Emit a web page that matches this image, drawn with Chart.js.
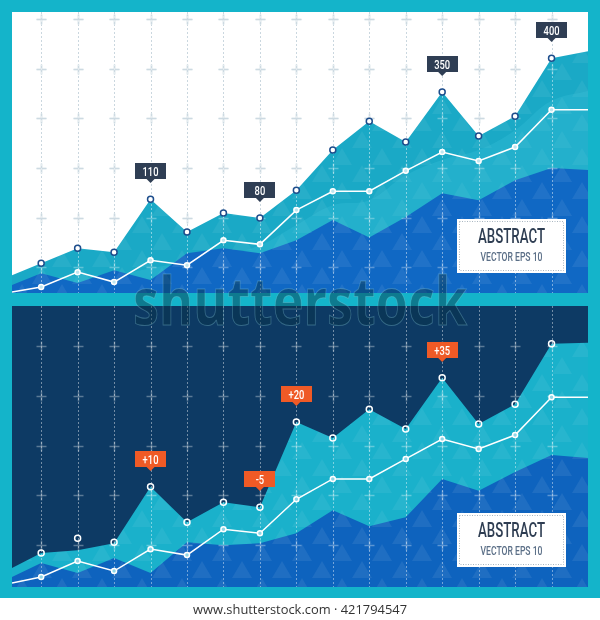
<!DOCTYPE html>
<html>
<head>
<meta charset="utf-8">
<script src="https://cdn.jsdelivr.net/npm/chart.js@4.4.1/dist/chart.umd.min.js"></script>
<style>
  html, body { margin: 0; padding: 0; background: #fff; }
  #page { position: relative; width: 600px; height: 620px; overflow: hidden; }
  #frame { position: absolute; left: 0; top: 0; width: 600px; height: 598px; background: #14b4ca; }
  .panel { position: absolute; left: 12px; width: 576px; height: 281px; }
  #topPanel { top: 12px; background: #fff; }
  #bottomPanel { top: 306px; background: #0d3a64; }
  #overlay { position: absolute; left: 0; top: 0; pointer-events: none; }
</style>
</head>
<body>
<div id="page">
  <div id="frame"></div>
  <div class="panel" id="topPanel"><canvas id="topChart"></canvas></div>
  <div class="panel" id="bottomPanel"><canvas id="bottomChart"></canvas></div>
  <canvas id="overlay" width="600" height="620"></canvas>
</div>
<script>
// x positions (column steps), first/last are the panel edges
var steps = [0.2, 1, 2, 3, 4, 5, 6, 7, 8, 9, 10, 11, 12, 13, 14, 15, 16];
var gridCols = [1, 2, 3, 4, 5, 6, 7, 8, 9, 10, 11, 12, 13, 14, 15];

// top (white) panel
var topPeak  = [-0.16, 0.08, 0.38, 0.30, 1.37, 0.71, 1.09, 0.99, 1.55, 2.36, 2.94, 2.52, 3.53, 2.64, 3.04, 4.21, 4.35];
var topGlow  = [-0.36, -0.26, -0.16, -0.16, -0.02, 0.10, 0.24, 0.44, 0.85, 1.25, 1.35, 1.85, 2.16, 2.36, 2.76, 3.35, 3.55];
var topBase  = [-0.36, -0.12, -0.32, -0.06, -0.26, 0.28, 0.38, 0.28, 0.54, 0.95, 0.60, 1.01, 1.49, 1.35, 1.75, 2.00, 1.96];
var topTrend = [-0.50, -0.40, -0.10, -0.30, 0.14, 0.04, 0.54, 0.46, 1.15, 1.53, 1.53, 1.94, 2.32, 2.14, 2.42, 3.17, 3.17];
var topRows  = [0, 1, 2, 3, 4, 5];
var topTagAt = [4, 7, 12, 15];
var topTags  = ['110', '80', '350', '400'];

// bottom (dark) panel
var botPeak  = [-0.46, -0.16, -0.10, 0.04, 1.17, 0.46, 0.86, 0.76, 2.47, 2.15, 2.73, 2.33, 3.36, 2.43, 2.83, 4.04, 4.06];
var botMarks = [-0.42, -0.16, 0.14, 0.06, 1.17, 0.46, 0.86, 0.76, 2.47, 2.15, 2.73, 2.33, 3.36, 2.43, 2.83, 4.04, 4.06];
var botBase  = [-0.64, -0.36, -0.56, -0.26, -0.56, 0.06, 0.00, 0.04, 0.24, 0.70, 0.38, 0.56, 1.33, 1.09, 1.47, 1.81, 1.75];
var botTrend = [-0.76, -0.64, -0.32, -0.52, -0.08, -0.20, 0.32, 0.24, 0.92, 1.33, 1.33, 1.73, 2.13, 1.93, 2.21, 2.97, 2.97];
var botRows  = [0, 1, 2, 3, 4];
var botTagAt = [4, 7, 8, 12];
var botTags  = ['+10', '-5', '+20', '+35'];

function pts(vals) {
  return vals.map(function (v, i) { return { x: steps[i], y: v }; });
}

function inner(c) {
  return c.dataIndex === 0 || c.dataIndex === steps.length - 1 ? 0 : 3;
}

// triangle texture used for the area fills
function tiles(base, light) {
  var c = document.createElement('canvas');
  c.width = 40; c.height = 34;
  var g = c.getContext('2d');
  g.fillStyle = base;
  g.fillRect(0, 0, 40, 34);
  g.fillStyle = light;
  function tri(x, y) {
    g.beginPath();
    g.moveTo(x, y + 17); g.lineTo(x + 10, y); g.lineTo(x + 20, y + 17);
    g.closePath(); g.fill();
  }
  tri(0, 0); tri(20, 17); tri(-20, 17);
  return g.createPattern(c, 'repeat');
}

function fitText(ctx, text, cx, base, width, font, color) {
  ctx.save();
  ctx.font = font;
  var w = ctx.measureText(text).width;
  ctx.translate(cx, base);
  ctx.scale(width / w, 1);
  ctx.fillStyle = color;
  ctx.textAlign = 'center';
  ctx.textBaseline = 'alphabetic';
  ctx.fillText(text, 0, 0);
  ctx.restore();
}

function drawGrid(chart, lineColor, crossColor, rows) {
  var ctx = chart.ctx, xs = chart.scales.x, ys = chart.scales.y, a = chart.chartArea;
  ctx.save();
  ctx.lineWidth = 1;
  ctx.strokeStyle = lineColor;
  ctx.setLineDash([2, 2]);
  gridCols.forEach(function (c) {
    var x = Math.round(xs.getPixelForValue(c)) + 0.5;
    ctx.beginPath(); ctx.moveTo(x, a.top); ctx.lineTo(x, a.bottom); ctx.stroke();
  });
  ctx.setLineDash([]);
  ctx.strokeStyle = crossColor;
  ctx.lineWidth = 1.5;
  gridCols.forEach(function (c) {
    var x = Math.round(xs.getPixelForValue(c)) + 0.5;
    rows.forEach(function (r) {
      var y = Math.round(ys.getPixelForValue(r)) + 0.5;
      ctx.beginPath();
      ctx.moveTo(x - 5, y); ctx.lineTo(x + 5, y);
      ctx.moveTo(x, y - 5); ctx.lineTo(x, y + 5);
      ctx.stroke();
    });
  });
  ctx.restore();
}

function drawTag(ctx, x, y, text, color) {
  var w = 31, h = 16, bottom = Math.round(y - 20);
  ctx.save();
  ctx.fillStyle = color;
  ctx.fillRect(Math.round(x - w / 2), bottom - h, w, h);
  ctx.beginPath();
  ctx.moveTo(x - 4, bottom); ctx.lineTo(x, bottom + 4); ctx.lineTo(x + 4, bottom);
  ctx.closePath(); ctx.fill();
  ctx.font = '500 13px Roboto';
  ctx.fillStyle = '#fff';
  ctx.translate(x, bottom - 3.5);
  ctx.scale(0.72, 1);
  ctx.textAlign = 'center';
  ctx.fillText(text, 0, 0);
  ctx.restore();
}

function drawBadge(chart) {
  var ctx = chart.ctx, a = chart.chartArea;
  var x = a.left + 445, y = a.top + 207, w = 109, h = 54;
  ctx.save();
  ctx.fillStyle = '#fff';
  ctx.fillRect(x, y, w, h);
  ctx.strokeStyle = '#a9b6c1';
  ctx.lineWidth = 1;
  ctx.setLineDash([1, 1.5]);
  ctx.strokeRect(x + 2.5, y + 2.5, w - 5, h - 5);
  ctx.restore();
  fitText(ctx, 'ABSTRACT', x + w / 2, y + 24, 67, '500 21px Roboto', '#2e3d52');
  fitText(ctx, 'VECTOR EPS 10', x + w / 2, y + 42, 62, '500 12px Roboto', '#5b6f87');
}

var panelDeco = {
  id: 'panelDeco',
  beforeDatasetsDraw: function (chart) {
    var d = chart.options.plugins.panelDeco;
    if (d.underLine) drawGrid(chart, d.underLine, d.underCross, d.rows);
  },
  afterDatasetDraw: function (chart, args) {
    var d = chart.options.plugins.panelDeco;
    if (chart.data.datasets[args.index].label === 'base') {
      drawGrid(chart, d.overLine, d.overCross, d.rows);
    }
  },
  afterDatasetsDraw: function (chart) {
    var d = chart.options.plugins.panelDeco;
    var xs = chart.scales.x, ys = chart.scales.y;
    d.tagAt.forEach(function (i, k) {
      drawTag(chart.ctx, xs.getPixelForValue(steps[i]), ys.getPixelForValue(d.marks[i]), d.tags[k], d.tagColor);
    });
    drawBadge(chart);
  }
};

function panelChart(id, cfg) {
  return new Chart(document.getElementById(id), {
    type: 'line',
    data: {
      datasets: [{
        label: 'peak',
        data: pts(cfg.peak),
        order: 5,
        fill: 'start',
        backgroundColor: cfg.peakFill,
        borderWidth: 0,
        pointRadius: 0,
        tension: 0
      }, {
        label: 'glow',
        data: pts(cfg.glow || cfg.base),
        order: 4,
        fill: 'start',
        backgroundColor: cfg.glow ? 'rgba(80, 210, 232, 0.18)' : 'rgba(0,0,0,0)',
        borderWidth: 0,
        pointRadius: 0,
        tension: 0.4
      }, {
        label: 'base',
        data: pts(cfg.base),
        order: 3,
        fill: 'start',
        backgroundColor: cfg.baseFill,
        borderWidth: 0,
        pointRadius: 0,
        tension: 0
      }, {
        label: 'trend',
        data: pts(cfg.trend),
        order: 2,
        fill: false,
        borderColor: '#ffffff',
        borderWidth: 1.5,
        pointRadius: function (c) { return inner(c) ? 2.5 : 0; },
        pointBorderWidth: 1.5,
        pointBorderColor: '#ffffff',
        pointBackgroundColor: cfg.trendDot,
        tension: 0
      }, {
        label: 'marks',
        data: pts(cfg.marks),
        order: 1,
        showLine: false,
        fill: false,
        pointRadius: inner,
        pointBorderWidth: 1.5,
        pointBorderColor: cfg.markEdge,
        pointBackgroundColor: cfg.markFill
      }]
    },
    options: {
      responsive: true,
      maintainAspectRatio: false,
      animation: false,
      events: [],
      layout: { padding: 0 },
      scales: {
        x: { type: 'linear', display: false, min: 0.2, max: 16 },
        y: { display: false, min: cfg.min, max: cfg.max }
      },
      plugins: {
        legend: { display: false },
        tooltip: { enabled: false },
        panelDeco: {
          underLine: cfg.underLine,
          underCross: cfg.underCross,
          overLine: cfg.overLine,
          overCross: cfg.overCross,
          rows: cfg.rows,
          marks: cfg.marks,
          tagAt: cfg.tagAt,
          tags: cfg.tags,
          tagColor: cfg.tagColor
        }
      }
    },
    plugins: [panelDeco]
  });
}

panelChart('topChart', {
  peak: topPeak, glow: topGlow, base: topBase, trend: topTrend, marks: topPeak,
  min: -0.52, max: 5.14, rows: topRows,
  peakFill: tiles('#1aa9c6', 'rgba(255,255,255,0.06)'),
  baseFill: tiles('#1068c4', 'rgba(255,255,255,0.07)'),
  trendDot: '#bfe6ef',
  markEdge: '#1d4d8c', markFill: '#ffffff',
  underLine: '#9fb6c5', underCross: '#b8cad6',
  overLine: 'rgba(255,255,255,0.45)', overCross: 'rgba(255,255,255,0.3)',
  tagAt: topTagAt, tags: topTags, tagColor: '#2f3e54'
});

panelChart('bottomChart', {
  peak: botPeak, base: botBase, trend: botTrend, marks: botMarks,
  min: -0.84, max: 4.80, rows: botRows,
  peakFill: tiles('#1ab1cb', 'rgba(255,255,255,0.06)'),
  baseFill: tiles('#0e63be', 'rgba(255,255,255,0.07)'),
  trendDot: '#8fd6e6',
  markEdge: '#ffffff', markFill: 'rgba(0,0,0,0)',
  overLine: 'rgba(255,255,255,0.42)', overCross: 'rgba(255,255,255,0.32)',
  tagAt: botTagAt, tags: botTags, tagColor: '#ef5a26'
});

// watermark and footer
var ov = document.getElementById('overlay').getContext('2d');
ov.save();
ov.font = 'bold 66px "Open Sans"';
var mw = ov.measureText('shutterstock').width;
ov.translate(133, 325);
ov.scale(334 / mw, 1);
ov.fillStyle = 'rgba(6, 52, 72, 0.45)';
ov.strokeStyle = 'rgba(150, 215, 230, 0.3)';
ov.lineWidth = 1;
ov.fillText('shutterstock', 0, 0);
ov.strokeText('shutterstock', 0, 0);
ov.restore();
fitText(ov, 'www.shutterstock.com \u00b7 421794547', 300, 614, 214, '13px "Open Sans"', '#333333');
</script>
</body>
</html>
